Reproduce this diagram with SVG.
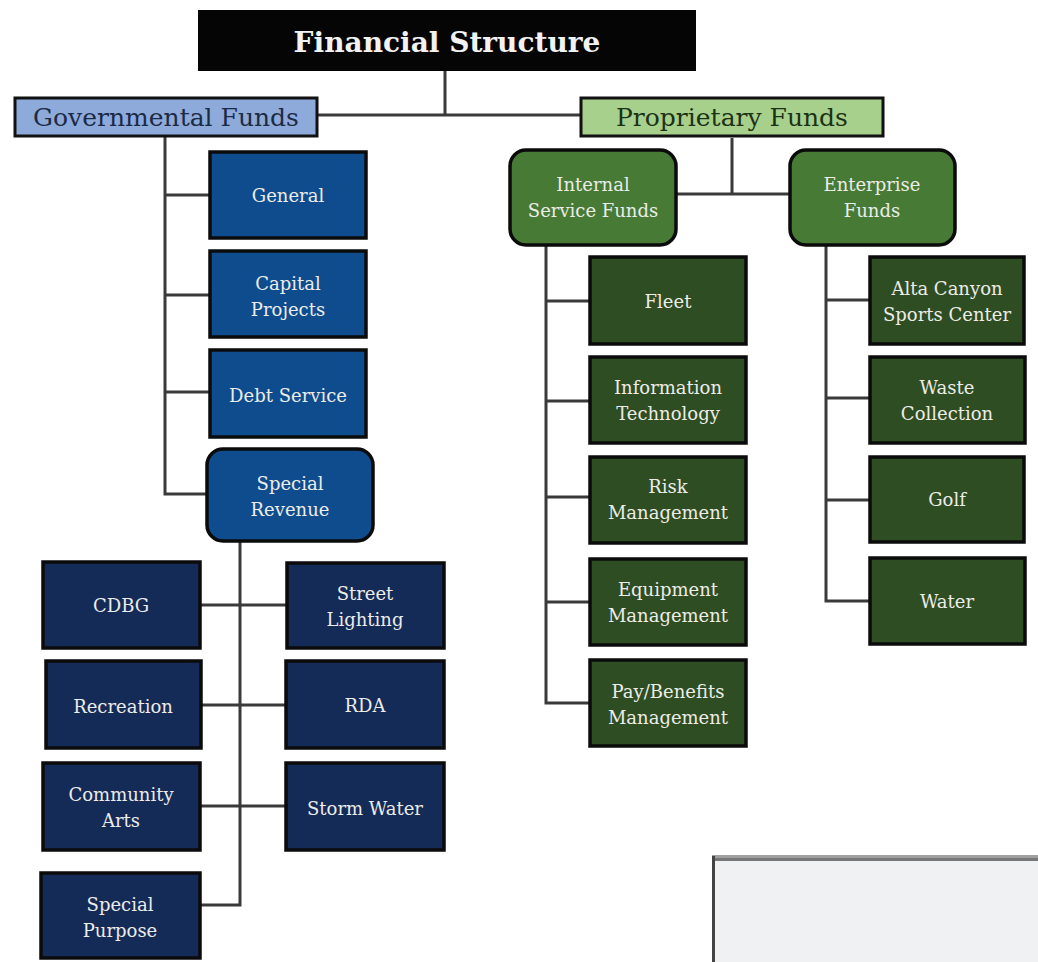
<svg xmlns="http://www.w3.org/2000/svg" width="1038" height="962" viewBox="0 0 1038 962">
<style>
.t{font-family:"DejaVu Serif","Liberation Serif",serif;text-anchor:middle}
.w{fill:#ecece8;font-size:18px}
.blue{fill:#0f4c8e;stroke:#0b0b0b;stroke-width:3.5}
.navy{fill:#142a57;stroke:#0b0b0b;stroke-width:3.5}
.mg{fill:#467a35;stroke:#0b0b0b;stroke-width:3.5}
.dg{fill:#2f4d22;stroke:#0b0b0b;stroke-width:3.5}
.ln{fill:none;stroke:#3a3a3a;stroke-width:3}
</style>
<rect width="1038" height="962" fill="#ffffff"/>
<g id="connectors">
<path class="ln" d="M445 71V115M318 115H580"/>
<path class="ln" d="M165 137V494H207M165 195H210M165 295H210M165 392H210"/>
<path class="ln" d="M240 541V905H200M200 605H287M201 705H286M200 806H286"/>
<path class="ln" d="M732 138V194M677 194H790"/>
<path class="ln" d="M546 245V703H590M546 301H590M546 401H590M546 497H590M546 602H590"/>
<path class="ln" d="M826 245V601H870M826 300H870M826 398H870M826 500H870"/>
</g>
<g id="title"><rect x="198" y="10" width="498" height="61" fill="#050505"/><text class="t" x="447" y="52" font-size="28" font-weight="bold" fill="#f2f2f2">Financial Structure</text></g>
<g id="gov"><rect x="15" y="98" width="302" height="38" fill="#8eaadb" stroke="#111" stroke-width="3"/><text class="t" x="166" y="126" font-size="25" fill="#1c2b44">Governmental Funds</text></g>
<g id="prop"><rect x="581" y="98" width="302" height="38" fill="#a8d08d" stroke="#111" stroke-width="3"/><text class="t" x="732" y="126" font-size="25" fill="#1b3216">Proprietary Funds</text></g>
<g id="general"><rect class="blue" x="210" y="152" width="156" height="86"/><text class="t w" x="288" y="202">General</text></g>
<g id="capital"><rect class="blue" x="210" y="251" width="156" height="86"/><text class="t w" x="288" y="290">Capital</text><text class="t w" x="288" y="316">Projects</text></g>
<g id="debt"><rect class="blue" x="210" y="350" width="156" height="87"/><text class="t w" x="288" y="402">Debt Service</text></g>
<g id="special-revenue"><rect class="blue" x="207" y="449" width="166" height="92" rx="16"/><text class="t w" x="290" y="490">Special</text><text class="t w" x="290" y="516">Revenue</text></g>
<g id="cdbg"><rect class="navy" x="43" y="562" width="157" height="86"/><text class="t w" x="121" y="612">CDBG</text></g>
<g id="street"><rect class="navy" x="287" y="563" width="157" height="85"/><text class="t w" x="365" y="600">Street</text><text class="t w" x="365" y="626">Lighting</text></g>
<g id="recreation"><rect class="navy" x="46" y="661" width="155" height="87"/><text class="t w" x="123" y="713">Recreation</text></g>
<g id="rda"><rect class="navy" x="286" y="661" width="158" height="87"/><text class="t w" x="365" y="712">RDA</text></g>
<g id="arts"><rect class="navy" x="43" y="763" width="157" height="87"/><text class="t w" x="121" y="801">Community</text><text class="t w" x="121" y="827">Arts</text></g>
<g id="storm"><rect class="navy" x="286" y="763" width="158" height="87"/><text class="t w" x="365" y="815">Storm Water</text></g>
<g id="special-purpose"><rect class="navy" x="41" y="873" width="159" height="85"/><text class="t w" x="120" y="911">Special</text><text class="t w" x="120" y="937">Purpose</text></g>
<g id="internal"><rect class="mg" x="510" y="150" width="166" height="95" rx="16"/><text class="t w" x="593" y="191">Internal</text><text class="t w" x="593" y="217">Service Funds</text></g>
<g id="enterprise"><rect class="mg" x="790" y="150" width="165" height="95" rx="16"/><text class="t w" x="872" y="191">Enterprise</text><text class="t w" x="872" y="217">Funds</text></g>
<g id="fleet"><rect class="dg" x="590" y="257" width="156" height="87"/><text class="t w" x="668" y="308">Fleet</text></g>
<g id="it"><rect class="dg" x="590" y="357" width="156" height="86"/><text class="t w" x="668" y="394">Information</text><text class="t w" x="668" y="420">Technology</text></g>
<g id="risk"><rect class="dg" x="590" y="457" width="156" height="86"/><text class="t w" x="668" y="493">Risk</text><text class="t w" x="668" y="519">Management</text></g>
<g id="equipment"><rect class="dg" x="590" y="559" width="156" height="86"/><text class="t w" x="668" y="596">Equipment</text><text class="t w" x="668" y="622">Management</text></g>
<g id="pay"><rect class="dg" x="590" y="660" width="156" height="86"/><text class="t w" x="668" y="698">Pay/Benefits</text><text class="t w" x="668" y="724">Management</text></g>
<g id="alta"><rect class="dg" x="870" y="257" width="154" height="87"/><text class="t w" x="947" y="295">Alta Canyon</text><text class="t w" x="947" y="321">Sports Center</text></g>
<g id="waste"><rect class="dg" x="870" y="357" width="155" height="86"/><text class="t w" x="947" y="394">Waste</text><text class="t w" x="947" y="420">Collection</text></g>
<g id="golf"><rect class="dg" x="870" y="457" width="154" height="85"/><text class="t w" x="947" y="506">Golf</text></g>
<g id="water"><rect class="dg" x="870" y="558" width="155" height="86"/><text class="t w" x="947" y="608">Water</text></g>
<g id="panel"><rect x="712" y="856" width="326" height="106" fill="#f0f1f3"/><rect x="712" y="855" width="326" height="3" fill="#a0a0a0"/><rect x="712" y="858" width="326" height="3" fill="#777777"/><rect x="712" y="856" width="3" height="106" fill="#444444"/></g>
</svg>
